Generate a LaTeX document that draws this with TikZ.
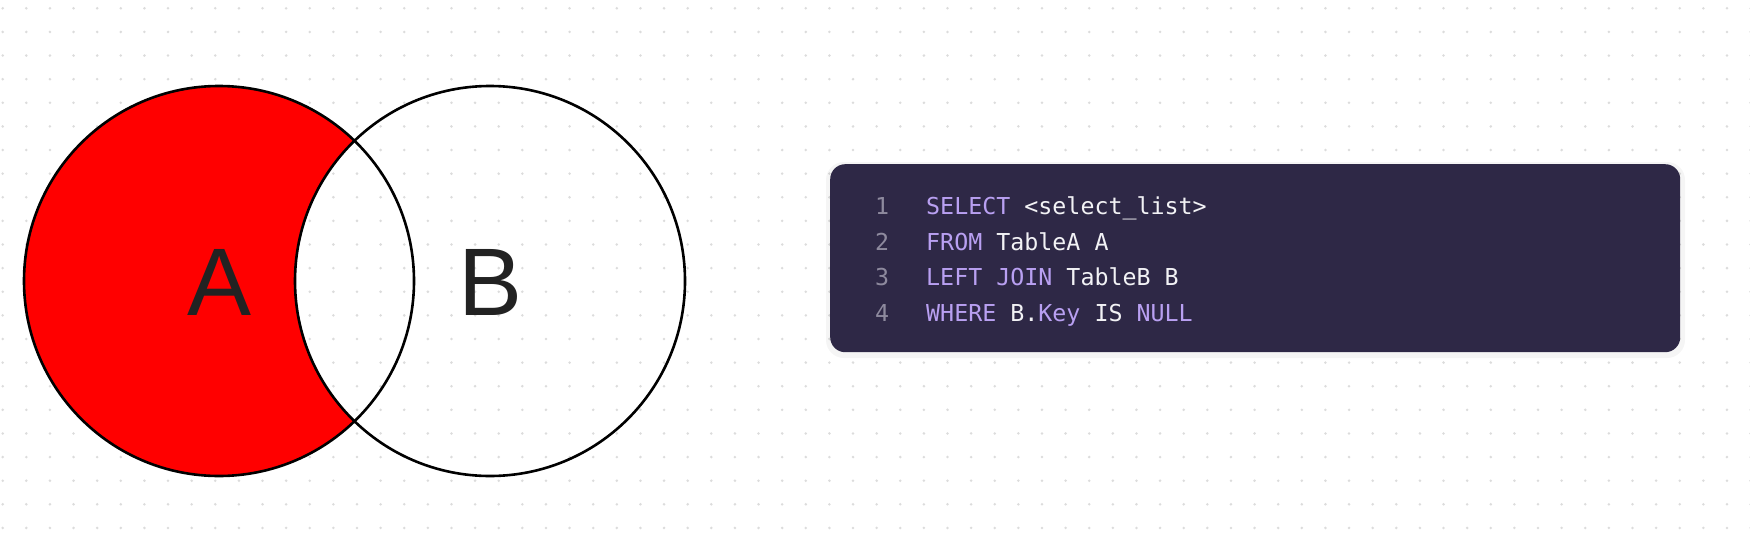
\documentclass[tikz,border=0pt]{standalone}
\usepackage{fontspec}
\setmainfont{Liberation Sans}
\newfontfamily\codefont{DejaVu Sans Mono}
\definecolor{boxbg}{HTML}{2E2846}
\definecolor{kw}{HTML}{B9A0F2}
\definecolor{plain}{HTML}{F2F2F5}
\definecolor{lnum}{HTML}{8E8A9E}
\definecolor{dotc}{HTML}{DCDCDC}
\definecolor{lettc}{HTML}{222222}
\begin{document}
\begin{tikzpicture}[x=1pt,y=-1pt,
  outline/.style={draw=black, line width=2.6pt},
  letter/.style={font=\fontsize{96}{96}\selectfont, text=lettc, inner sep=0pt},
  codeline/.style={anchor=base west, inner sep=0pt, font=\codefont\fontsize{23.3}{28}\selectfont, text=plain},
  numline/.style={anchor=base west, inner sep=0pt, font=\codefont\fontsize{23.3}{28}\selectfont, text=lnum}]
\useasboundingbox (0,0) rectangle (1750,538);
\fill[white] (0,0) rectangle (1750,538);
% dot grid
\foreach \i in {0,...,74}{
  \foreach \j in {0,...,22}{
    \fill[dotc] (2.7+\i*23.62, 8.3+\j*23.62) circle[radius=1.4pt];
  }
}
\coordinate (cA) at (219,281);
\coordinate (cB) at (490,281);
% A minus B in red
\begin{scope}
  \clip (cA) circle[radius=195pt];
  \fill[red, even odd rule] (cA) circle[radius=195pt] (cB) circle[radius=195pt];
\end{scope}
\draw[outline] (cA) circle[radius=195pt];
\draw[outline] (cB) circle[radius=195pt];
\node[letter] (la) at (220,282) {A};
\node[letter] (lb) at (491,282) {B};
% code box
\fill[black, opacity=0.04, rounded corners=18pt] (826,162) rectangle (1685,358);
\node[fill=boxbg, rounded corners=15pt, minimum width=850pt, minimum height=188pt, inner sep=0pt, anchor=north west] (box) at (830,164) {};
\node[numline] (n1) at (875,214) {1};
\node[numline] (n2) at (875,250) {2};
\node[numline] (n3) at (875,285.5) {3};
\node[numline] (n4) at (875,321) {4};
\node[codeline] (c1) at (926,214) {\textcolor{kw}{SELECT} <select\_list>};
\node[codeline] (c2) at (926,250) {\textcolor{kw}{FROM} TableA A};
\node[codeline] (c3) at (926,285.5) {\textcolor{kw}{LEFT JOIN} TableB B};
\node[codeline] (c4) at (926,321) {\textcolor{kw}{WHERE} B.\textcolor{kw}{Key} IS \textcolor{kw}{NULL}};
\end{tikzpicture}
\end{document}
